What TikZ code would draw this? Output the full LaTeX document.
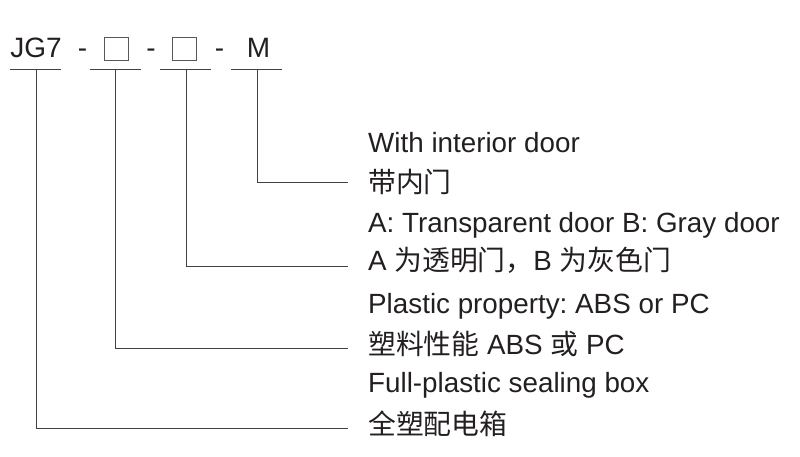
\documentclass[tikz,border=0pt]{standalone}
\usepackage{fontspec}
\setmainfont{Liberation Sans}
\newfontfamily\cjk{Noto Sans CJK SC}
\usetikzlibrary{positioning}
\definecolor{ink}{HTML}{231F20}
\frenchspacing

\begin{document}
\begin{tikzpicture}[x=1pt,y=-1pt,
  lbl/.style={anchor=base west, inner sep=0pt, text=ink, font=\fontsize{27.8}{30}\selectfont},
  code/.style={anchor=base, inner sep=0pt, text=ink, font=\fontsize{28}{30}\selectfont},
  slot/.style={draw=ink!75, line width=0.9pt, minimum width=24pt, minimum height=23pt, inner sep=0pt},
  lead/.style={draw=ink!85, line width=0.8pt}]
  \useasboundingbox (0,0) rectangle (800,457);

  % Model code: JG7 - [] - [] - M
  \node[code] (jg) at (36,58) {JG7};
  \node[code] (d1) at (82.5,58) {-};
  \node[slot] (b1) at (116,48.5) {};
  \node[code] (d2) at (151,58) {-};
  \node[slot] (b2) at (184.5,48.5) {};
  \node[code] (d3) at (219.5,58) {-};
  \node[code] (m) at (258.5,58) {M};

  % Underlines below each field
  \coordinate (t1) at (36,69);
  \coordinate (t2) at (115.5,69);
  \coordinate (t3) at (186,69);
  \coordinate (t4) at (257,69);
  \draw[lead] ([xshift=-26pt]t1) -- ([xshift=25pt]t1);
  \draw[lead] ([xshift=-26pt]t2) -- ([xshift=25pt]t2);
  \draw[lead] ([xshift=-26pt]t3) -- ([xshift=25pt]t3);
  \draw[lead] ([xshift=-26pt]t4) -- ([xshift=25pt]t4);

  % Descriptions, English over Chinese
  \node[lbl] (en1) at (368,153) {With interior door};
  \node[lbl] (cn1) at (368,193) {\cjk 带内门};
  \node[lbl] (en2) at (368,232) {A: Transparent door B: Gray door};
  \node[lbl] (cn2) at (368,270) {A {\cjk 为透明门，}B {\cjk 为灰色门}};
  \node[lbl] (en3) at (368,313) {Plastic property: ABS or PC};
  \node[lbl] (cn3) at (368,354) {{\cjk 塑料性能} ABS {\cjk 或} PC};
  \node[lbl] (en4) at (368,392) {Full-plastic sealing box};
  \node[lbl] (cn4) at (368,434) {\cjk 全塑配电箱};

  % Leader lines from the fields to the descriptions
  \coordinate (e1) at (348,182);
  \coordinate (e2) at (348,266);
  \coordinate (e3) at (348,348);
  \coordinate (e4) at (348,428);
  \draw[lead] (t4) |- (e1);
  \draw[lead] (t3) |- (e2);
  \draw[lead] (t2) |- (e3);
  \draw[lead] (t1) |- (e4);
\end{tikzpicture}
\end{document}
